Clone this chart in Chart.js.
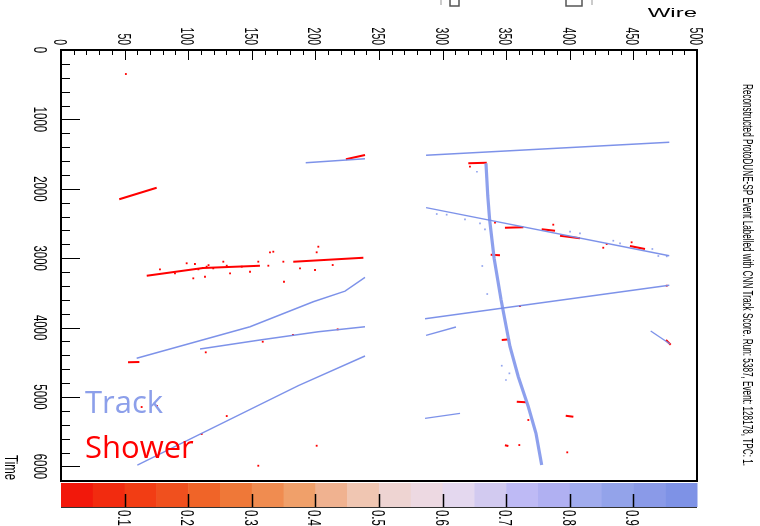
<!DOCTYPE html>
<html>
<head>
<meta charset="utf-8">
<script src="https://cdn.jsdelivr.net/npm/chart.js@4.4.1/dist/chart.umd.min.js"></script>
<style>
  html, body { margin: 0; padding: 0; background: #fff; }
  canvas { display: block; }
</style>
</head>
<body>
<canvas id="evd" width="760" height="526"></canvas>
<script>
// axis ticks
const wireTicks = [0, 50, 100, 150, 200, 250, 300, 350, 400, 450, 500]
const timeTicks = [0, 1000, 2000, 3000, 4000, 5000, 6000]
const scoreTicks = [0.1, 0.2, 0.3, 0.4, 0.5, 0.6, 0.7, 0.8, 0.9]

// reconstructed tracks (wire, time)
const trackWire = [
  [192.4, 239],
  [287, 478.2],
  [287, 478.2],
  [286.2, 478.2],
  [287, 310.5],
  [286.2, 313.7],
  [463.6, 478.8],
  [59.5, 148.6, 198.3, 223.3, 239],
  [109.3, 156.4, 202.3, 239],
  [60, 186.6, 239]
]
const trackTime = [
  [1624, 1566],
  [1517, 1330],
  [2272, 2964],
  [3872, 3390],
  [4111, 3991],
  [5307, 5235],
  [4049, 4236],
  [4442, 3987, 3627, 3473, 3275],
  [4308, 4179, 4059, 3987],
  [5980, 4837, 4409]
]

// the long, steep track through the right TPC
const muonWire = [334.1, 335.5, 337, 340.5, 346, 353, 359.5, 367.4, 373.4, 377.9]
const muonTime = [1633, 2100, 2450, 3000, 3602, 4275, 4707, 5140, 5523, 5980]

// shower-like segments
const showerWire = [
  [45.8, 75.2], [224, 239], [67.4, 111.6, 156.4], [182.6, 237.7],
  [320.2, 334.7], [349, 363.5], [377.9, 388.4], [392.3, 408], [447.3, 459.1],
  [337.8, 345.1], [346.5, 353], [358.3, 365.6], [396.8, 402.8], [349, 351.7],
  [475.6, 479.3], [52.7, 61.6]
]
const showerTime = [
  [2151, 1984], [1575, 1513], [3252, 3141, 3108], [3050, 2993],
  [1633, 1624], [2561, 2555], [2584, 2604], [2676, 2713], [2824, 2867],
  [2950, 2958], [4179, 4169], [5068, 5076], [5269, 5284], [5696, 5706],
  [4179, 4246], [4500, 4496]
]

// isolated shower hits
const redHitWire = [51, 341.2, 387, 448.6, 429, 426.3, 476.2, 360.8, 367.4, 360.3, 398,
  113.8, 158.6, 182.4, 217.5, 130.3, 110.6, 201, 155.1, 63.4, 75.5, 321.5,
  77.8, 89.6, 98.8, 105.3, 104, 113.2, 119.7, 127.6, 130.3, 132.9, 142.1, 148.6,
  155.1, 163, 164.3, 166.9, 174.8, 175.3, 187.9, 199.7, 201, 202.3, 213.6, 111.6, 114.5, 108, 116]
const redHitTime = [346, 2488, 2517, 2771, 2795, 2849, 3396, 3689, 5331, 5692, 5797,
  4356, 4203, 4107, 4025, 5274, 5533, 5702, 5990, 5144, 5130, 1681,
  3160, 3218, 3073, 3084, 3290, 3267, 3146, 3050, 3108, 3218, 3122, 3195,
  3050, 3108, 2915, 2906, 3050, 3339, 3146, 3170, 2915, 2834, 3098, 3141, 3122, 3160, 3100]

// isolated track hits
const blueHitWire = [327, 295.4, 303.2, 317.6, 329.4, 333.3, 331.2, 335.1, 400.2, 408,
  434.2, 439.5, 464.9, 469.6, 476.2, 346.5, 352.5, 349.8]
const blueHitTime = [1754, 2363, 2373, 2440, 2497, 2584, 3112, 3516, 2618, 2641,
  2748, 2785, 2867, 2968, 2973, 4549, 4659, 4755]

const trackColor = 'rgba(118, 140, 232, 0.95)'
const showerColor = '#ff0000'
const binColors = ['#f2180b', '#f22b0f', '#f23d14', '#f0501e', '#f06428', '#ef7838', '#f08c50',
  '#f0a06a', '#f0b290', '#f0c6b2', '#eed4d2', '#edd9e2', '#e4d8ef', '#d2caf0', '#bebaf5',
  '#b0b0f2', '#a1acee', '#93a3ea', '#8a9ae8', '#7e92e6']

const pts = (ws, ts) => ws.map((w, i) => ({ x: w, y: ts[i] }))

const datasets = []
trackWire.forEach((w, i) => datasets.push({
  data: pts(w, trackTime[i]), showLine: true, borderColor: trackColor,
  borderWidth: 1.4, pointRadius: 0
}))
datasets.push({
  data: pts(muonWire, muonTime), showLine: true, borderColor: 'rgba(135,155,236,0.95)',
  borderWidth: 3.2, pointRadius: 0
})
datasets.push({
  data: pts(blueHitWire, blueHitTime), pointStyle: 'rect', pointRadius: 1.2,
  backgroundColor: 'rgba(135,155,236,0.9)', borderWidth: 0
})
showerWire.forEach((w, i) => datasets.push({
  data: pts(w, showerTime[i]), showLine: true, borderColor: showerColor,
  borderWidth: 2, pointRadius: 0
}))
datasets.push({
  data: pts(redHitWire, redHitTime), pointStyle: 'rect', pointRadius: 1.3,
  backgroundColor: showerColor, borderWidth: 0
})

const capH = 14
function rotText(ctx, text, x, y, align, sx){
	ctx.save()
	ctx.translate(x, y)
	ctx.rotate(Math.PI / 2)
	ctx.scale(sx, 1)
	ctx.textAlign = align
	ctx.fillText(text, 0, 0)
	ctx.restore()
}

const decor = {
  id: 'decor',
  afterDraw(chart){
    const { ctx, chartArea: a, scales: { x, y } } = chart
    ctx.save()
    ctx.strokeStyle = '#000'
    ctx.fillStyle = '#000'

    // frame
    ctx.lineWidth = 2
    ctx.strokeRect(a.left, a.top, a.right - a.left, a.bottom - a.top)

    // wire ticks along the top
    ctx.lineWidth = 1
    ctx.beginPath()
    for (let v = 0; v <= 500; v += 10) {
      const px = Math.round(x.getPixelForValue(v)) + 0.5
      ctx.moveTo(px, a.top)
      ctx.lineTo(px, a.top + (v % 50 === 0 ? 10 : 5))
    }
    // time ticks along the left
    for (let v = 0; v <= 6200; v += 200) {
      const py = Math.round(y.getPixelForValue(v)) + 0.5
      ctx.moveTo(a.left, py)
      ctx.lineTo(a.left + (v % 1000 === 0 ? 19 : 9), py)
    }
    ctx.stroke()

    ctx.font = '19px "Liberation Sans", Arial, sans-serif'
    ctx.textBaseline = 'alphabetic'
    wireTicks.forEach(v => rotText(ctx, String(v), x.getPixelForValue(v) - capH / 2, a.top - 5, 'right', 0.55))
    timeTicks.forEach(v => rotText(ctx, String(v), a.left - 27, y.getPixelForValue(v), 'center', 0.6))
    rotText(ctx, 'Time', 5, a.bottom - 1, 'right', 0.6)

    // axis title on top
    ctx.save()
    ctx.translate(a.right, 17)
    ctx.scale(2, 1)
    ctx.font = '12px "Liberation Sans", Arial, sans-serif'
    ctx.textAlign = 'right'
    ctx.fillText('Wire', 0, 0)
    ctx.restore()

    // title down the right side
    ctx.save()
    ctx.translate(743, 84)
    ctx.rotate(Math.PI / 2)
    ctx.font = '15px "Liberation Sans Narrow", "Liberation Sans", Arial, sans-serif'
    ctx.textAlign = 'left'
    ctx.fillText('Reconstructed ProtoDUNE-SP Event Labelled with CNN Track Score. Run: 5387, Event: 128178, TPC: 1.', 0, 0, 382)
    ctx.restore()

    // colour bar for the track score
    const cbTop = 483, cbBot = 507
    const w = (a.right - a.left) / binColors.length
    binColors.forEach((c, i) => {
      ctx.fillStyle = c
      ctx.fillRect(a.left + i * w, cbTop, w + 0.5, cbBot - cbTop)
    })
    ctx.strokeStyle = '#333'
    ctx.lineWidth = 1
    ctx.beginPath()
    ctx.moveTo(a.left, cbBot + 0.5)
    ctx.lineTo(a.right, cbBot + 0.5)
    ctx.stroke()
    ctx.strokeStyle = '#000'
    ctx.lineWidth = 1.5
    ctx.fillStyle = '#000'
    ctx.beginPath()
    scoreTicks.forEach(s => {
      const px = Math.round(a.left + s * (a.right - a.left)) + 0.5
      ctx.moveTo(px, cbBot)
      ctx.lineTo(px, cbBot - 13)
    })
    ctx.stroke()
    ctx.font = '19px "Liberation Sans", Arial, sans-serif'
    scoreTicks.forEach(s => {
      const px = a.left + s * (a.right - a.left)
      rotText(ctx, s.toFixed(1), px - capH / 2, cbBot + 3, 'left', 0.6)
    })

    // labels for the two classes
    ctx.font = '31px "Open Sans", sans-serif'
    ctx.textAlign = 'left'
    ctx.fillStyle = '#8c9fea'
    ctx.fillText('Track', 85, 413)
    ctx.fillStyle = showerColor
    ctx.fillText('Shower', 85, 458)

    // bits of the cut-off legend at the very top
    ctx.strokeStyle = '#555'
    ctx.lineWidth = 1.5
    ctx.strokeRect(450, -2, 9, 8)
    ctx.strokeRect(566, -2, 16, 8)
    ctx.strokeStyle = '#bbb'
    ctx.beginPath()
    ctx.moveTo(441, 0); ctx.lineTo(441, 5)
    ctx.moveTo(592, 0); ctx.lineTo(592, 5)
    ctx.stroke()
    ctx.restore()
  }
}

const chart = new Chart(document.getElementById('evd').getContext('2d'), {
  type: 'scatter',
  data: { datasets },
  options: {
    responsive: false,
    animation: false,
    devicePixelRatio: 1,
    layout: { padding: { left: 61, top: 50, right: 63, bottom: 45 } },
    plugins: { legend: { display: false }, tooltip: { enabled: false } },
    scales: {
      x: { type: 'linear', position: 'top', min: 0, max: 500, display: false },
      y: { type: 'linear', min: 0, max: 6210, reverse: true, display: false }
    }
  },
  plugins: [decor]
})
</script>
</body>
</html>
